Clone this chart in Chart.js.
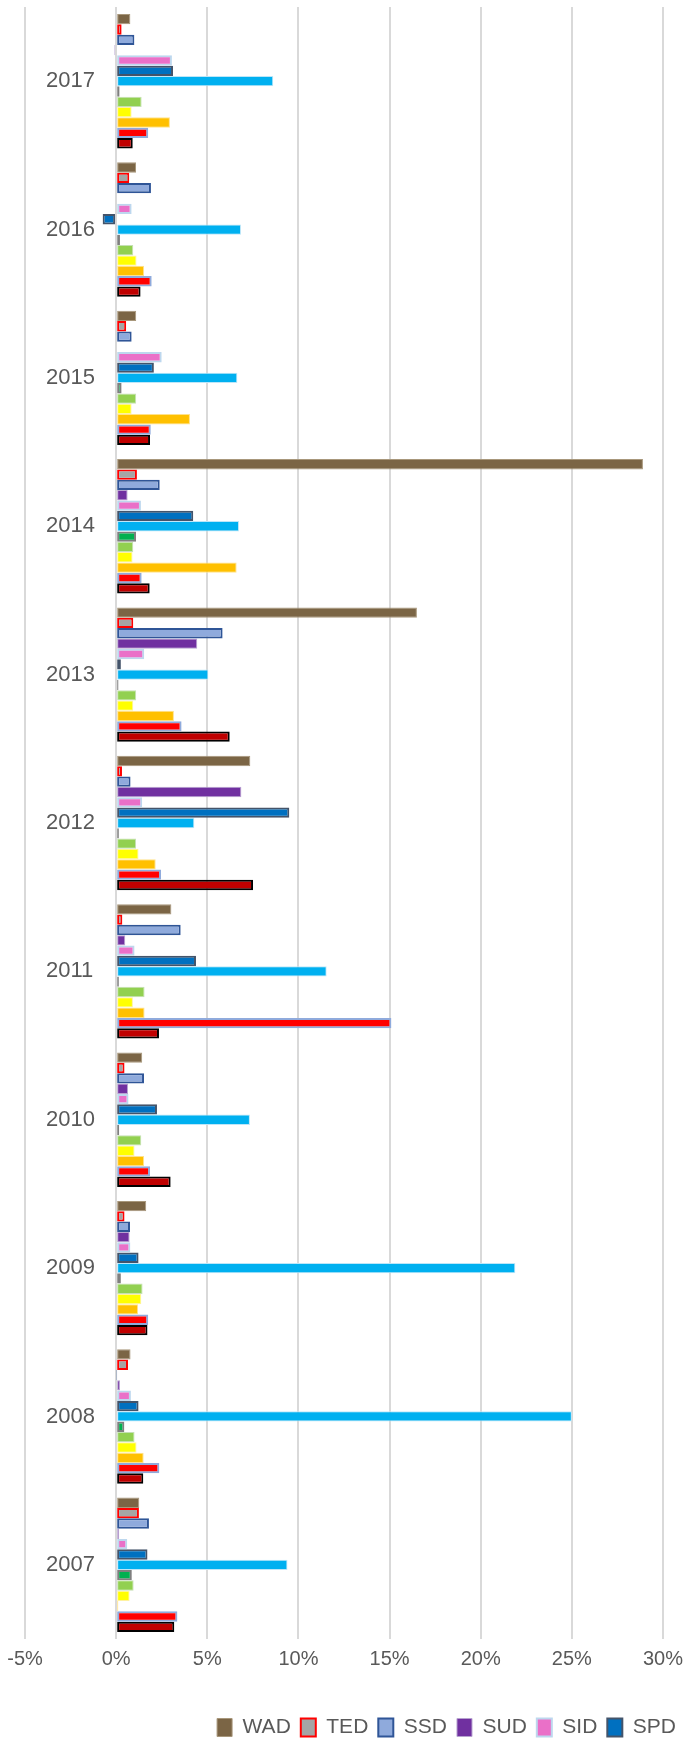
<!DOCTYPE html>
<html>
<head>
<meta charset="utf-8">
<script src="https://cdn.jsdelivr.net/npm/chart.js@4"></script>
<style>
  html, body { margin: 0; padding: 0; background: #ffffff; overflow: hidden; }
  #wrap { width: 686px; height: 1741px; }
  canvas { display: block; }
</style>
</head>
<body>
<div id="wrap"><canvas id="c" width="686" height="1741"></canvas></div>
<script>
// Categories, top to bottom
const years = ['2017','2016','2015','2014','2013','2012','2011','2010','2009','2008','2007'];

// Series values (%), same order as years
const WAD = [0.78, 1.09, 1.10, 28.9, 16.5, 7.36, 3.03, 1.43, 1.65, 0.79, 1.27];
const TED = [0.30, 0.72, 0.55, 1.14, 0.94, 0.32, 0.34, 0.46, 0.46, 0.65, 1.25];
const SSD = [1.00, 1.91, 0.85, 2.39, 5.84, 0.79, 3.54, 1.53, 0.76, 0.02, 1.80];
const SUD = [-0.10, 0, 0, 0.63, 4.45, 6.87, 0.50, 0.65, 0.74, 0.21, 0.17];
const SID = [3.06, 0.85, 2.50, 1.36, 1.54, 1.43, 1.01, 0.68, 0.78, 0.81, 0.61];
const SPD = [3.12, -0.74, 2.07, 4.23, 0.26, 9.50, 4.38, 2.24, 1.23, 1.23, 1.72];
const S7  = [8.62, 6.85, 6.65, 6.74, 5.06, 4.29, 11.55, 7.34, 21.9, 25.0, 9.40];
const S8  = [0.19, 0.21, 0.30, 1.09, 0.13, 0.15, 0.15, 0.17, 0.26, 0.45, 0.86];
const S9  = [1.40, 0.94, 1.10, 0.94, 1.10, 1.09, 1.56, 1.38, 1.45, 1.01, 0.96];
const S10 = [0.85, 1.12, 0.85, 0.90, 0.94, 1.23, 0.92, 1.01, 1.38, 1.12, 0.74];
const S11 = [2.95, 1.53, 4.05, 6.61, 3.17, 2.17, 1.56, 1.53, 1.20, 1.51, 0.12];
const S12 = [1.76, 1.95, 1.90, 1.40, 3.59, 2.46, 15.1, 1.86, 1.76, 2.37, 3.36];
const S13 = [0.91, 1.34, 1.86, 1.84, 6.23, 7.51, 2.35, 2.99, 1.72, 1.49, 3.19];

// Tick settings for the value axis
const xMin = -5, xMax = 30, xStep = 5;

const seriesNames = ['WAD','TED','SSD','SUD','SID','SPD','Series 7','Series 8','Series 9','Series 10','Series 11','Series 12','Series 13'];
const seriesData  = [WAD, TED, SSD, SUD, SID, SPD, S7, S8, S9, S10, S11, S12, S13];
const fills   = ['#7B6545','#A5A5A5','#8FAADC','#7030A0','#EA70C8','#0070C0','#00B0F0','#00B050','#92D050','#FFFF00','#FFC000','#FF0000','#C00000'];
const borders = ['#A8977B','#FF0000','#2F5597','#B7A2D0','#BDD7EE','#44546A','#BDE6F8','#7F7F7F','#C5E0B4','#FFF2A0','#FFE28A','#8FAADC','#000000'];
const bwidths = [1, 2, 2, 1, 2, 2, 1, 2, 1, 1, 1, 2, 2];

const FONT = "'Liberation Sans', Arial, sans-serif";
const TXT = '#595959';

const datasets = seriesNames.map((name, i) => ({
  label: name,
  data: seriesData[i],
  backgroundColor: fills[i],
  borderColor: borders[i],
  borderWidth: bwidths[i],
  borderSkipped: false,
  categoryPercentage: 0.906,
  barPercentage: 1.0
}));

new Chart(document.getElementById('c'), {
  type: 'bar',
  data: { labels: years, datasets },
  options: {
    indexAxis: 'y',
    responsive: false,
    animation: false,
    devicePixelRatio: 1,
    layout: { padding: { left: 25, right: 0, top: 7, bottom: -7 } },
    plugins: {
      tooltip: { enabled: false },
      legend: {
        position: 'bottom',
        align: 'end',
        labels: {
          filter: (item) => item.datasetIndex < 6,
          boxWidth: 15,
          boxHeight: 18,
          padding: 10,
          color: TXT,
          font: { family: FONT, size: 21 }
        }
      }
    },
    scales: {
      x: {
        min: xMin,
        max: xMax,
        grid: { color: '#D9D9D9', lineWidth: 2, drawTicks: false },
        border: { display: false },
        ticks: {
          stepSize: xStep,
          padding: 8,
          color: TXT,
          font: { family: FONT, size: 20 },
          callback: (v) => v + '%'
        },
        afterFit: (s) => { s.height = 68; s.paddingLeft = 0; s.paddingRight = 0; }
      },
      y: {
        position: 'left',
        grid: { display: false },
        border: { display: false },
        ticks: {
          mirror: true,
          padding: 21,
          color: TXT,
          font: { family: FONT, size: 22 }
        },
        afterFit: (s) => { s.width = 0; s.paddingTop = 0; s.paddingBottom = 0; }
      },
      yRight: {
        type: 'category',
        position: 'right',
        grid: { display: false },
        border: { display: false },
        ticks: { display: false },
        afterFit: (s) => { s.width = 23; s.paddingTop = 0; s.paddingBottom = 0; }
      }
    }
  }
});
</script>
</body>
</html>
